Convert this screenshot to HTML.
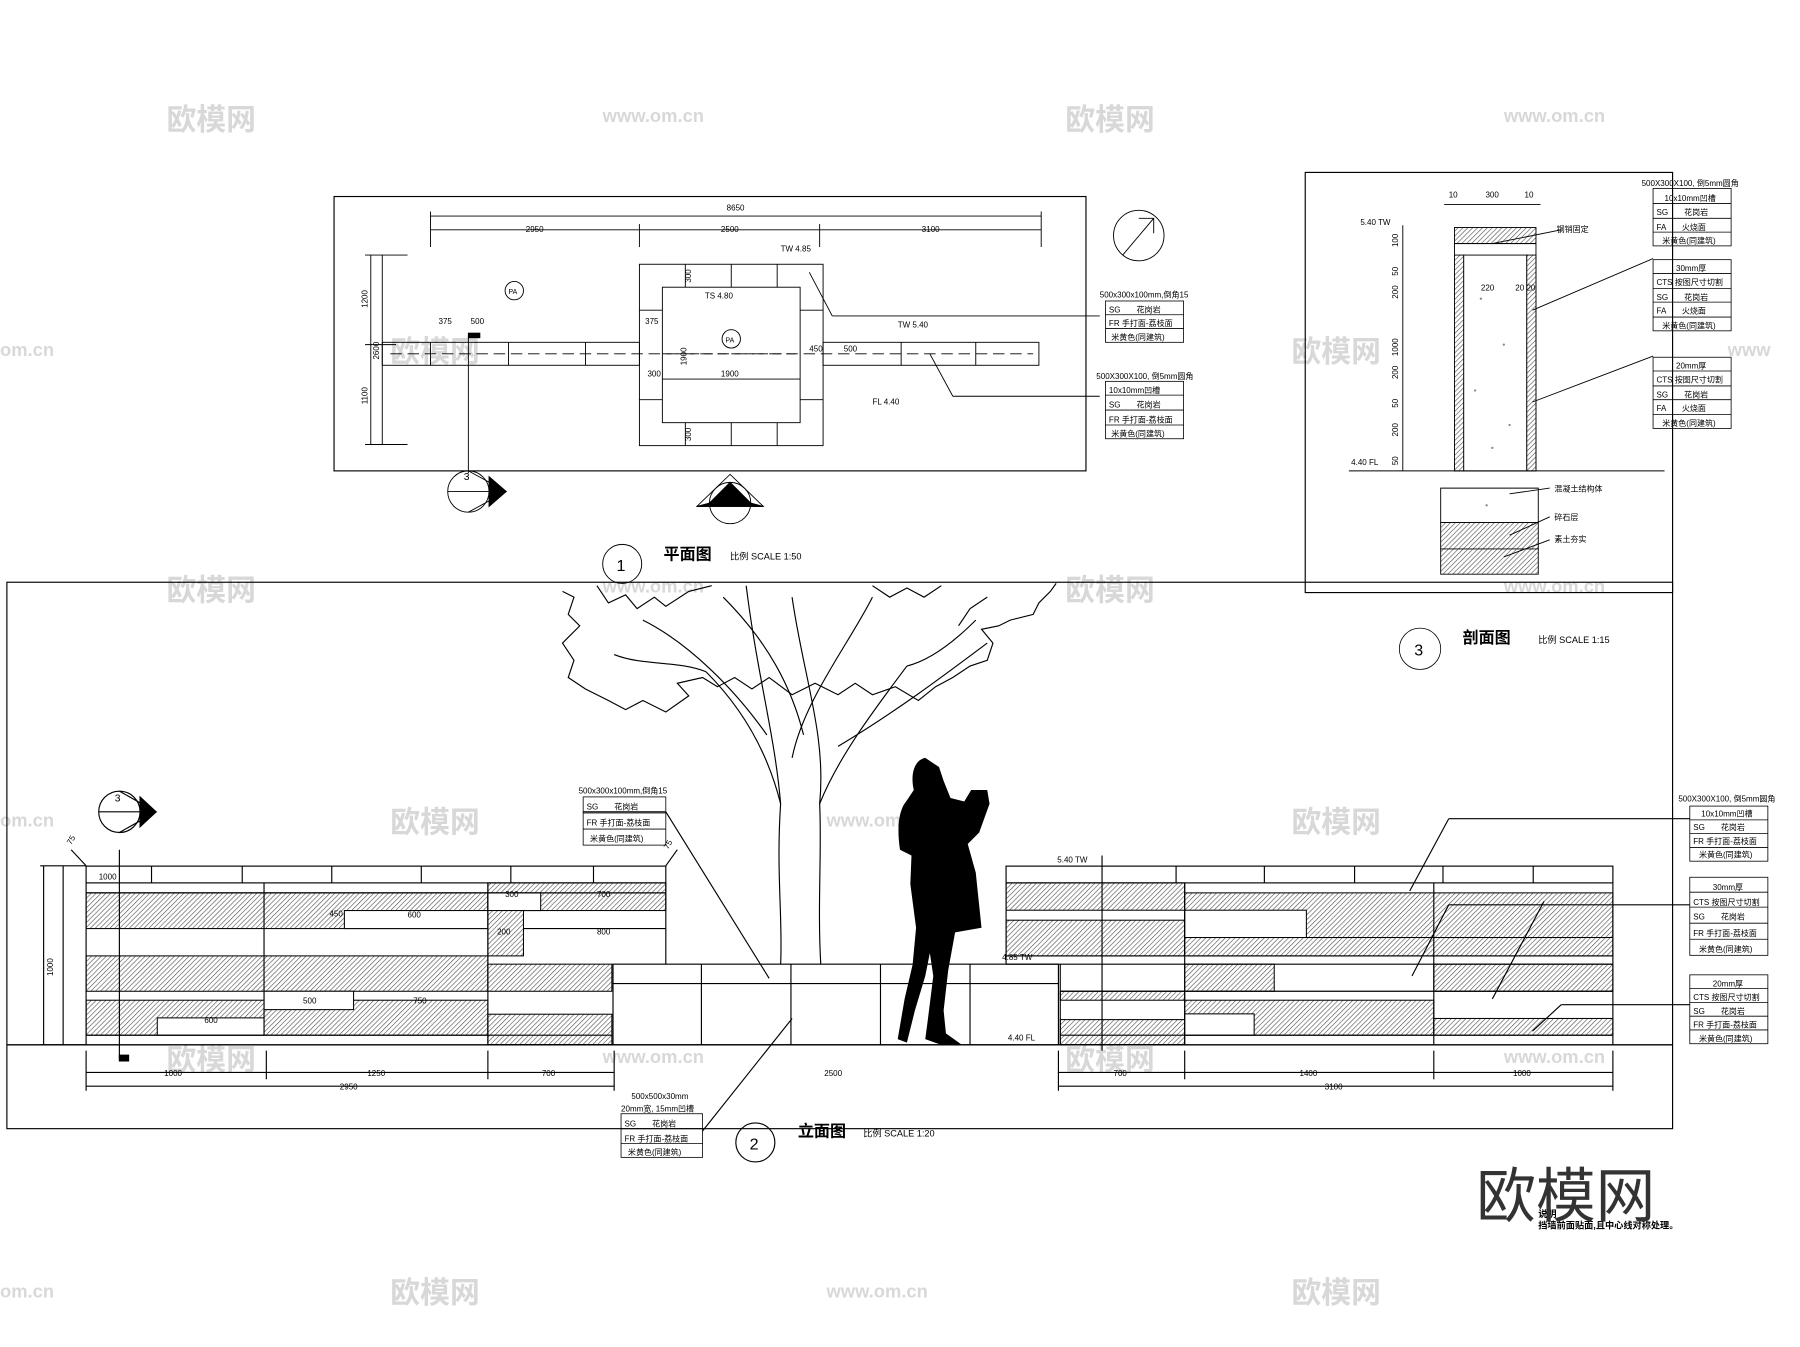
<!DOCTYPE html>
<html><head><meta charset="utf-8"><style>
html,body{margin:0;padding:0;background:#fff}
svg{display:block}
text{font-family:"Liberation Sans","Noto Sans CJK SC",sans-serif;fill:#000}
.t{font-size:7px}
.wm{fill:#d8d8d8;font-size:26px;font-weight:bold}
.wm2{fill:#d8d8d8;font-size:16px;font-weight:bold}
</style></head><body>
<svg width="1800" height="1347" viewBox="0 0 1568 1173" xmlns="http://www.w3.org/2000/svg">
<defs>
<pattern id="h" width="3" height="3" patternUnits="userSpaceOnUse" patternTransform="rotate(45)">
<rect width="3" height="3" fill="#fff"/><line x1="0" y1="0" x2="0" y2="3" stroke="#555" stroke-width="1.1"/></pattern>
</defs>
<rect width="1568" height="1173" fill="#fff"/>
<!-- watermarks -->
<g>
<text class="wm" x="145" y="113">欧模网</text><text class="wm2" x="525" y="106">www.om.cn</text>
<text class="wm" x="928" y="113">欧模网</text><text class="wm2" x="1310" y="106">www.om.cn</text>
<text class="wm2" x="0" y="310">om.cn</text><text class="wm" x="340" y="315">欧模网</text>
<text class="wm" x="1125" y="315">欧模网</text><text class="wm2" x="1505" y="310">www</text>
<text class="wm" x="145" y="523">欧模网</text><text class="wm2" x="525" y="516">www.om.cn</text>
<text class="wm" x="928" y="523">欧模网</text><text class="wm2" x="1310" y="516">www.om.cn</text>
<text class="wm2" x="0" y="720">om.cn</text><text class="wm" x="340" y="725">欧模网</text>
<text class="wm2" x="720" y="720">www.om.cn</text><text class="wm" x="1125" y="725">欧模网</text>
<text class="wm" x="145" y="932">欧模网</text><text class="wm2" x="525" y="926">www.om.cn</text>
<text class="wm" x="928" y="932">欧模网</text><text class="wm2" x="1310" y="926">www.om.cn</text>
<text class="wm2" x="0" y="1130">om.cn</text><text class="wm" x="340" y="1135">欧模网</text>
<text class="wm2" x="720" y="1130">www.om.cn</text><text class="wm" x="1125" y="1135">欧模网</text>
</g>

<g fill="none" stroke="#000" stroke-width="1">
<!-- frames -->
<rect x="291" y="171" width="655" height="239"/>
<rect x="1137" y="150" width="320" height="366"/>
<rect x="6" y="507" width="1451" height="476"/>
</g>

<!-- PLAN -->
<g fill="none" stroke="#000" stroke-width="0.8">
<line x1="375" y1="188" x2="907" y2="188"/>
<line x1="375" y1="200" x2="907" y2="200"/>
<line x1="375" y1="184" x2="375" y2="215"/><line x1="557" y1="195" x2="557" y2="215"/><line x1="714" y1="195" x2="714" y2="215"/><line x1="907" y1="184" x2="907" y2="215"/>
<line x1="323" y1="222" x2="323" y2="387"/><line x1="333" y1="222" x2="333" y2="387"/>
<line x1="318" y1="222" x2="355" y2="222"/><line x1="318" y1="300" x2="345" y2="300"/><line x1="318" y1="387" x2="355" y2="387"/>
<rect x="333" y="298" width="224" height="20"/><rect x="717" y="298" width="188" height="20"/>
<line x1="340" y1="308" x2="900" y2="308" stroke-dasharray="10,5"/>
<line x1="375" y1="298" x2="375" y2="318"/><line x1="443" y1="298" x2="443" y2="318"/><line x1="510" y1="298" x2="510" y2="318"/>
<line x1="785" y1="298" x2="785" y2="318"/><line x1="850" y1="298" x2="850" y2="318"/>
<rect x="557" y="230" width="160" height="158"/><rect x="577" y="250" width="120" height="118"/>
<line x1="597" y1="230" x2="597" y2="250"/><line x1="637" y1="230" x2="637" y2="250"/><line x1="677" y1="230" x2="677" y2="250"/>
<line x1="597" y1="368" x2="597" y2="388"/><line x1="637" y1="368" x2="637" y2="388"/><line x1="677" y1="368" x2="677" y2="388"/>
<line x1="557" y1="270" x2="577" y2="270"/><line x1="557" y1="348" x2="577" y2="348"/><line x1="697" y1="270" x2="717" y2="270"/><line x1="697" y1="348" x2="717" y2="348"/>
<line x1="577" y1="308" x2="697" y2="308" stroke-dasharray="8,4"/>
<line x1="577" y1="330" x2="697" y2="330"/>
<line x1="408" y1="292" x2="408" y2="412"/><rect x="408" y="290" width="10" height="4" fill="#000"/>
<line x1="705" y1="237" x2="725" y2="275"/><line x1="725" y1="275" x2="958" y2="275"/>
<line x1="810" y1="308" x2="830" y2="345"/><line x1="830" y1="345" x2="958" y2="345"/>
<circle cx="448" cy="253" r="8"/><circle cx="637" cy="295" r="8"/>
<circle cx="992" cy="205" r="22"/>
<path d="M978 222 L1005 190 M992 190 L1005 190 L1005 203"/>
<!-- markers -->
<circle cx="408" cy="428" r="18"/><path d="M390 428 H426"/><path d="M408 410 L441 428 L408 446" fill="none"/><path d="M426 415 L441 428 L426 441Z" fill="#000"/>
<circle cx="636" cy="438" r="18"/><path d="M618 438 H654"/><path d="M607 441 L636 413 L665 441Z"/><path d="M607 441 L618 438 L636 420 L654 438 L665 441 Z" fill="#000"/>
<circle cx="542" cy="491" r="17"/>
</g>
<g class="t">
<text x="633" y="183">8650</text><text x="458" y="202">2950</text><text x="628" y="202">2500</text><text x="803" y="202">3100</text>
<text x="320" y="268" transform="rotate(-90 320 268)">1200</text><text x="320" y="352" transform="rotate(-90 320 352)">1100</text><text x="330" y="313" transform="rotate(-90 330 313)">2600</text>
<text x="382" y="282">375</text><text x="410" y="282">500</text><text x="562" y="282">375</text><text x="705" y="306">450</text><text x="735" y="306">500</text>
<text x="564" y="328">300</text><text x="628" y="328">1900</text><text x="602" y="246" transform="rotate(-90 602 246)">300</text><text x="602" y="384" transform="rotate(-90 602 384)">300</text>
<text x="598" y="318" transform="rotate(-90 598 318)">1900</text>
<text x="680" y="219">TW 4.85</text><text x="614" y="260">TS 4.80</text><text x="782" y="285">TW 5.40</text><text x="760" y="352">FL 4.40</text>
<text x="443" y="256" font-size="6">PA</text><text x="632" y="298" font-size="6">PA</text>
<text x="404" y="418" font-size="9">3</text><text x="632" y="437" font-size="9">2</text>
<text x="537" y="497" font-size="14">1</text>
<text x="578" y="487" font-size="14" font-weight="bold">平面图</text><text x="636" y="487" font-size="8">比例 SCALE 1:50</text>
</g>
<!-- plan label boxes -->
<g fill="none" stroke="#000" stroke-width="0.7">
<rect x="963" y="262" width="68" height="36"/><line x1="963" y1="274" x2="1031" y2="274"/><line x1="963" y1="286" x2="1031" y2="286"/>
<rect x="963" y="332" width="68" height="50"/><line x1="963" y1="344" x2="1031" y2="344"/><line x1="963" y1="357" x2="1031" y2="357"/><line x1="963" y1="370" x2="1031" y2="370"/>
</g>
<g class="t" font-size="6.5">
<text x="958" y="259">500x300x100mm,倒角15</text><text x="966" y="272">SG　　花岗岩</text><text x="966" y="284">FR 手打面-荔枝面</text><text x="968" y="296">米黄色(同建筑)</text>
<text x="955" y="330">500X300X100, 倒5mm圆角</text><text x="966" y="342">10x10mm凹槽</text><text x="966" y="355">SG　　花岗岩</text><text x="966" y="368">FR 手打面-荔枝面</text><text x="968" y="380">米黄色(同建筑)</text>
</g>

<!-- SECTION -->
<g fill="none" stroke="#000" stroke-width="0.8">
<rect x="1267" y="198" width="71" height="14" fill="url(#h)"/>
<rect x="1267" y="212" width="71" height="198"/>
<rect x="1275" y="222" width="55" height="188" fill="#fff"/>
<rect x="1267" y="222" width="8" height="188" fill="url(#h)"/><rect x="1330" y="222" width="8" height="188" fill="url(#h)"/>
<path d="M1255 425 H1340 V455 H1255 Z" fill="#fff"/>
<path d="M1255 455 H1340 V478 H1255 Z" fill="url(#h)"/>
<path d="M1255 478 H1340 V500 H1255 Z" fill="url(#h)"/>
<line x1="1222" y1="196" x2="1222" y2="410"/>
<line x1="1175" y1="410" x2="1450" y2="410"/>
<line x1="1258" y1="178" x2="1342" y2="178"/>
<line x1="1300" y1="212" x2="1360" y2="200"/>
<line x1="1315" y1="430" x2="1350" y2="425"/><line x1="1315" y1="466" x2="1350" y2="450"/><line x1="1310" y1="485" x2="1350" y2="470"/>
<line x1="1335" y1="270" x2="1440" y2="225"/><line x1="1335" y1="350" x2="1440" y2="310"/>
</g>
<g fill="#888"><circle cx="1290" cy="260" r="1"/><circle cx="1310" cy="300" r="1"/><circle cx="1285" cy="340" r="1"/><circle cx="1315" cy="370" r="1"/><circle cx="1300" cy="390" r="1"/><circle cx="1295" cy="440" r="1"/></g>
<g class="t" font-size="6.5">
<text x="1262" y="172">10</text><text x="1294" y="172">300</text><text x="1328" y="172">10</text>
<text x="1185" y="196">5.40 TW</text><text x="1177" y="405">4.40 FL</text>
<text x="1218" y="215" transform="rotate(-90 1218 215)">100</text><text x="1218" y="240" transform="rotate(-90 1218 240)">50</text><text x="1218" y="260" transform="rotate(-90 1218 260)">200</text><text x="1218" y="310" transform="rotate(-90 1218 310)">1000</text><text x="1218" y="330" transform="rotate(-90 1218 330)">200</text><text x="1218" y="355" transform="rotate(-90 1218 355)">50</text><text x="1218" y="380" transform="rotate(-90 1218 380)">200</text><text x="1218" y="405" transform="rotate(-90 1218 405)">50</text>
<text x="1290" y="253">220</text><text x="1320" y="253">20 20</text>
<text x="1356" y="202">钢销固定</text>
<text x="1354" y="428">混凝土结构体</text><text x="1354" y="453">碎石层</text><text x="1354" y="472">素土夯实</text>
</g>
<g fill="none" stroke="#000" stroke-width="0.7">
<rect x="1440" y="164" width="68" height="50"/><line x1="1440" y1="177" x2="1508" y2="177"/><line x1="1440" y1="190" x2="1508" y2="190"/><line x1="1440" y1="202" x2="1508" y2="202"/>
<rect x="1440" y="226" width="68" height="62"/><line x1="1440" y1="238" x2="1508" y2="238"/><line x1="1440" y1="251" x2="1508" y2="251"/><line x1="1440" y1="263" x2="1508" y2="263"/><line x1="1440" y1="276" x2="1508" y2="276"/>
<rect x="1440" y="311" width="68" height="62"/><line x1="1440" y1="323" x2="1508" y2="323"/><line x1="1440" y1="336" x2="1508" y2="336"/><line x1="1440" y1="348" x2="1508" y2="348"/><line x1="1440" y1="361" x2="1508" y2="361"/>
<circle cx="1237" cy="565" r="18"/>
</g>
<g class="t" font-size="6.5">
<text x="1430" y="162">500X300X100, 倒5mm圆角</text><text x="1450" y="175">10x10mm凹槽</text><text x="1443" y="187">SG　　花岗岩</text><text x="1443" y="200">FA　　火烧面</text><text x="1448" y="212">米黄色(同建筑)</text>
<text x="1460" y="236">30mm厚</text><text x="1443" y="248">CTS 按图尺寸切割</text><text x="1443" y="261">SG　　花岗岩</text><text x="1443" y="273">FA　　火烧面</text><text x="1448" y="286">米黄色(同建筑)</text>
<text x="1460" y="321">20mm厚</text><text x="1443" y="333">CTS 按图尺寸切割</text><text x="1443" y="346">SG　　花岗岩</text><text x="1443" y="358">FA　　火烧面</text><text x="1448" y="371">米黄色(同建筑)</text>
<text x="1232" y="571" font-size="14">3</text>
<text x="1274" y="560" font-size="14" font-weight="bold">剖面图</text><text x="1340" y="560" font-size="8">比例 SCALE 1:15</text>
</g>

<!-- ELEVATION -->
<!-- tree -->
<g fill="none" stroke="#000" stroke-width="1">
<path d="M680 840 C682 800 676 760 680 700 C670 660 650 620 615 585 M715 840 C712 790 716 740 714 700 C730 660 760 620 790 580"/>
<path d="M680 700 C675 640 660 590 650 510 M714 700 C720 640 700 590 690 520 M690 660 C700 610 740 560 760 520 M668 640 C640 600 600 560 560 540 M730 650 C780 620 820 590 860 560 M700 640 C690 600 670 560 630 520"/>
<path d="M615 585 C590 575 560 580 535 570 M790 580 C810 575 830 560 850 540" />
<path d="M490 515 L500 520 L495 535 L505 545 L490 560 L500 575 L495 590 L510 600 L530 610 L545 618 L560 610 L580 620 L600 606 L590 595 L612 590 L625 598 L640 590 L655 600 L670 590 L690 605 L710 595 L730 605 L745 595 L760 605 L780 598 L800 610 L815 598 L830 590 L845 580 L860 575 L865 560 L855 548 L870 545 L880 540 L900 535 L905 525 L915 515 L920 508"/>
<path d="M520 510 L530 525 L545 518 L555 530 L570 520 L580 528 L600 515 L620 510 M760 510 L775 520 L790 512 L805 520 L820 510 M835 545 L845 530 L860 520"/>
</g>
<!-- person -->
<path fill="#000" d="M806 660 C796 662 793 675 796 688 L790 697 C783 705 781 720 784 740 L794 745 L793 770 L798 808 L795 840 L788 870 L782 905 L790 908 L797 880 L806 850 L810 830 L813 850 L808 890 L806 905 L820 910 L838 910 L824 900 L822 880 L826 845 L832 812 L855 808 L850 760 L843 735 L853 725 L862 700 L860 688 L846 688 L840 698 L828 695 L822 680 L818 668 Z"/>
<!-- left wall -->
<g stroke="#000" stroke-width="0.9">
<rect x="75" y="777.6" width="350" height="31.1" fill="url(#h)"/>
<rect x="300" y="793" width="125" height="15.7" fill="#fff"/>
<rect x="425" y="768.9" width="155" height="24.1" fill="url(#h)"/>
<rect x="425" y="777.6" width="46" height="15.4" fill="#fff"/>
<rect x="425" y="793" width="31" height="39.5" fill="url(#h)"/>
<rect x="75" y="832.5" width="350" height="30.8" fill="url(#h)"/>
<rect x="425" y="839.7" width="108" height="23.6" fill="url(#h)"/>
<rect x="75" y="871.1" width="350" height="30.5" fill="url(#h)"/>
<rect x="137" y="886.5" width="93" height="15.1" fill="#fff"/>
<rect x="230" y="863.3" width="78" height="16" fill="#fff"/>
<rect x="425" y="883.3" width="108" height="26.4" fill="url(#h)"/>
</g>
<g fill="none" stroke="#000" stroke-width="1">
<rect x="75" y="754.3" width="505" height="14.6"/>
<line x1="132" y1="754.3" x2="132" y2="768.9"/><line x1="211" y1="754.3" x2="211" y2="768.9"/><line x1="289" y1="754.3" x2="289" y2="768.9"/><line x1="367" y1="754.3" x2="367" y2="768.9"/><line x1="445" y1="754.3" x2="445" y2="768.9"/><line x1="517" y1="754.3" x2="517" y2="768.9"/>
<line x1="75" y1="768.9" x2="75" y2="910"/><line x1="580" y1="768.9" x2="580" y2="839.7"/>
<line x1="230" y1="768.9" x2="230" y2="901.6"/><line x1="425" y1="768.9" x2="425" y2="910"/>
<line x1="75" y1="901.6" x2="533" y2="901.6"/><line x1="75" y1="777.6" x2="580" y2="777.6"/><line x1="456" y1="808.7" x2="580" y2="808.7"/>
<!-- planter -->
<rect x="534" y="839.7" width="388" height="70.3"/>
<line x1="534" y1="856.6" x2="922" y2="856.6"/>
<line x1="611" y1="839.7" x2="611" y2="910"/><line x1="689" y1="839.7" x2="689" y2="910"/><line x1="767" y1="839.7" x2="767" y2="910"/><line x1="845" y1="839.7" x2="845" y2="910"/>
<!-- ground -->
<line x1="6" y1="910" x2="1457" y2="910" stroke-width="1.2"/>
<!-- left dims -->
<line x1="38" y1="754" x2="38" y2="910"/><line x1="55" y1="754" x2="55" y2="910"/>
<line x1="35" y1="754" x2="75" y2="754"/><line x1="35" y1="910" x2="75" y2="910"/>
<line x1="75" y1="934" x2="535" y2="934"/><line x1="75" y1="946" x2="535" y2="946"/>
<line x1="922" y1="934" x2="1405" y2="934"/><line x1="922" y1="946" x2="1405" y2="946"/>
<line x1="75" y1="915" x2="75" y2="950"/><line x1="232" y1="915" x2="232" y2="940"/><line x1="425" y1="915" x2="425" y2="940"/><line x1="535" y1="915" x2="535" y2="950"/>
<line x1="922" y1="915" x2="922" y2="950"/><line x1="1032" y1="915" x2="1032" y2="940"/><line x1="1249" y1="915" x2="1249" y2="940"/><line x1="1405" y1="915" x2="1405" y2="950"/>
<line x1="104" y1="740" x2="104" y2="922"/><rect x="104" y="919" width="8" height="5" fill="#000"/>
<line x1="62" y1="740" x2="75" y2="754"/><line x1="580" y1="754" x2="590" y2="740"/>
</g>
<!-- right wall -->
<g stroke="#000" stroke-width="0.9">
<rect x="876.4" y="768.9" width="155.6" height="23.8" fill="url(#h)"/>
<rect x="876.4" y="801.4" width="155.6" height="31.1" fill="url(#h)"/>
<rect x="1032" y="777.6" width="373" height="38.9" fill="url(#h)"/>
<rect x="1032" y="792.7" width="106" height="23.8" fill="#fff"/>
<rect x="1032" y="816.5" width="373" height="16" fill="url(#h)"/>
<rect x="1032" y="839.7" width="78" height="23.6" fill="url(#h)"/>
<rect x="1249" y="839.7" width="156" height="23.6" fill="url(#h)"/>
<rect x="923.6" y="863.3" width="108.4" height="7.8" fill="url(#h)"/>
<rect x="923.6" y="888" width="108.4" height="21.7" fill="url(#h)"/>
<rect x="1032" y="871.1" width="217" height="30.5" fill="url(#h)"/>
<rect x="1032" y="883" width="60.5" height="18.6" fill="#fff"/>
<rect x="1249" y="887" width="156" height="14.6" fill="url(#h)"/>
</g>
<g fill="none" stroke="#000" stroke-width="1">
<rect x="876.4" y="754.3" width="528.6" height="14.6"/>
<line x1="960" y1="745" x2="960" y2="915"/>
<line x1="1024.5" y1="754.3" x2="1024.5" y2="768.9"/><line x1="1101.4" y1="754.3" x2="1101.4" y2="768.9"/><line x1="1180" y1="754.3" x2="1180" y2="768.9"/><line x1="1257" y1="754.3" x2="1257" y2="768.9"/><line x1="1335.6" y1="754.3" x2="1335.6" y2="768.9"/>
<line x1="876.4" y1="768.9" x2="876.4" y2="839.7"/><line x1="1405" y1="768.9" x2="1405" y2="910"/>
<line x1="1032" y1="768.9" x2="1032" y2="910"/><line x1="1249" y1="768.9" x2="1249" y2="910"/>
<line x1="876.4" y1="832.5" x2="1405" y2="832.5"/><line x1="876.4" y1="839.7" x2="1405" y2="839.7"/><line x1="923.6" y1="863.3" x2="1405" y2="863.3"/><line x1="923.6" y1="901.6" x2="1405" y2="901.6"/>
<line x1="923.6" y1="839.7" x2="923.6" y2="910"/>
<!-- leaders -->
<line x1="1228" y1="776" x2="1262" y2="713"/><line x1="1262" y1="713" x2="1472" y2="713"/>
<line x1="1230" y1="850" x2="1262" y2="788"/><line x1="1262" y1="788" x2="1472" y2="788"/>
<line x1="1300" y1="870" x2="1345" y2="785"/><line x1="1335" y1="898" x2="1360" y2="875"/><line x1="1360" y1="875" x2="1472" y2="875"/>
<line x1="580" y1="707" x2="670" y2="852"/><line x1="508" y1="707" x2="580" y2="707"/>
<line x1="612" y1="985" x2="690" y2="887"/>
<!-- section marker 3 -->
<circle cx="104" cy="707" r="18"/><path d="M86 707 H122"/><path d="M122 694 L136 707 L122 720Z" fill="#000"/><path d="M104 689 L136 707 L104 725"/>
<circle cx="658" cy="995" r="17"/>
</g>
<g fill="none" stroke="#000" stroke-width="0.7">
<rect x="508" y="694" width="72" height="42"/><line x1="508" y1="708" x2="580" y2="708"/><line x1="508" y1="722" x2="580" y2="722"/>
<rect x="541" y="970" width="71" height="38"/><line x1="541" y1="983" x2="612" y2="983"/><line x1="541" y1="996" x2="612" y2="996"/>
<rect x="1472" y="702" width="68" height="48"/><line x1="1472" y1="714" x2="1540" y2="714"/><line x1="1472" y1="726" x2="1540" y2="726"/><line x1="1472" y1="738" x2="1540" y2="738"/>
<rect x="1472" y="764" width="68" height="68"/><line x1="1472" y1="777" x2="1540" y2="777"/><line x1="1472" y1="790" x2="1540" y2="790"/><line x1="1472" y1="804" x2="1540" y2="804"/><line x1="1472" y1="818" x2="1540" y2="818"/>
<rect x="1472" y="849" width="68" height="60"/><line x1="1472" y1="861" x2="1540" y2="861"/><line x1="1472" y1="873" x2="1540" y2="873"/><line x1="1472" y1="885" x2="1540" y2="885"/><line x1="1472" y1="897" x2="1540" y2="897"/>
</g>
<g class="t" font-size="6.5">
<text x="504" y="691">500x300x100mm,倒角15</text><text x="511" y="705">SG　　花岗岩</text><text x="511" y="719">FR 手打面-荔枝面</text><text x="514" y="733">米黄色(同建筑)</text>
<text x="550" y="957">500x500x30mm</text><text x="541" y="968">20mm宽, 15mm凹槽</text><text x="544" y="981">SG　　花岗岩</text><text x="544" y="994">FR 手打面-荔枝面</text><text x="547" y="1006">米黄色(同建筑)</text>
<text x="1462" y="698">500X300X100, 倒5mm圆角</text><text x="1482" y="711">10x10mm凹槽</text><text x="1475" y="723">SG　　花岗岩</text><text x="1475" y="735">FR 手打面-荔枝面</text><text x="1480" y="747">米黄色(同建筑)</text>
<text x="1492" y="775">30mm厚</text><text x="1475" y="788">CTS 按图尺寸切割</text><text x="1475" y="801">SG　　花岗岩</text><text x="1475" y="815">FR 手打面-荔枝面</text><text x="1480" y="829">米黄色(同建筑)</text>
<text x="1492" y="859">20mm厚</text><text x="1475" y="871">CTS 按图尺寸切割</text><text x="1475" y="883">SG　　花岗岩</text><text x="1475" y="895">FR 手打面-荔枝面</text><text x="1480" y="907">米黄色(同建筑)</text>
<text x="143" y="937">1000</text><text x="320" y="937">1250</text><text x="472" y="937">700</text><text x="718" y="937">2500</text>
<text x="970" y="937">700</text><text x="1132" y="949" dy="-12">1400</text><text x="1318" y="937">1000</text>
<text x="296" y="949">2950</text><text x="1154" y="949">3100</text>
<text x="46" y="850" transform="rotate(-90 46 850)">1000</text>
<text x="287" y="798">450</text><text x="355" y="799">600</text><text x="440" y="781">300</text><text x="520" y="781">700</text><text x="433" y="814">200</text><text x="520" y="814">800</text>
<text x="264" y="874">500</text><text x="360" y="874">750</text><text x="178" y="891">600</text>
<text x="921" y="751">5.40 TW</text><text x="873" y="836">4.85 TW</text><text x="878" y="906">4.40 FL</text>
<text x="86" y="766">1000</text><text x="62" y="736" transform="rotate(-60 62 736)">75</text><text x="582" y="740" transform="rotate(-60 582 740)">75</text>
<text x="653" y="1001" font-size="14">2</text><text x="100" y="698" font-size="9">3</text>
<text x="695" y="990" font-size="14" font-weight="bold">立面图</text><text x="752" y="990" font-size="8">比例 SCALE 1:20</text>
<text x="1340" y="1060" font-size="8" font-weight="bold">说明</text><text x="1340" y="1070" font-size="8" font-weight="bold">挡墙前面贴面,且中心线对称处理。</text>
</g>
<text x="1286" y="1060" font-size="52" fill="#333" style="fill:#333">欧模网</text>
</svg>
</body></html>
